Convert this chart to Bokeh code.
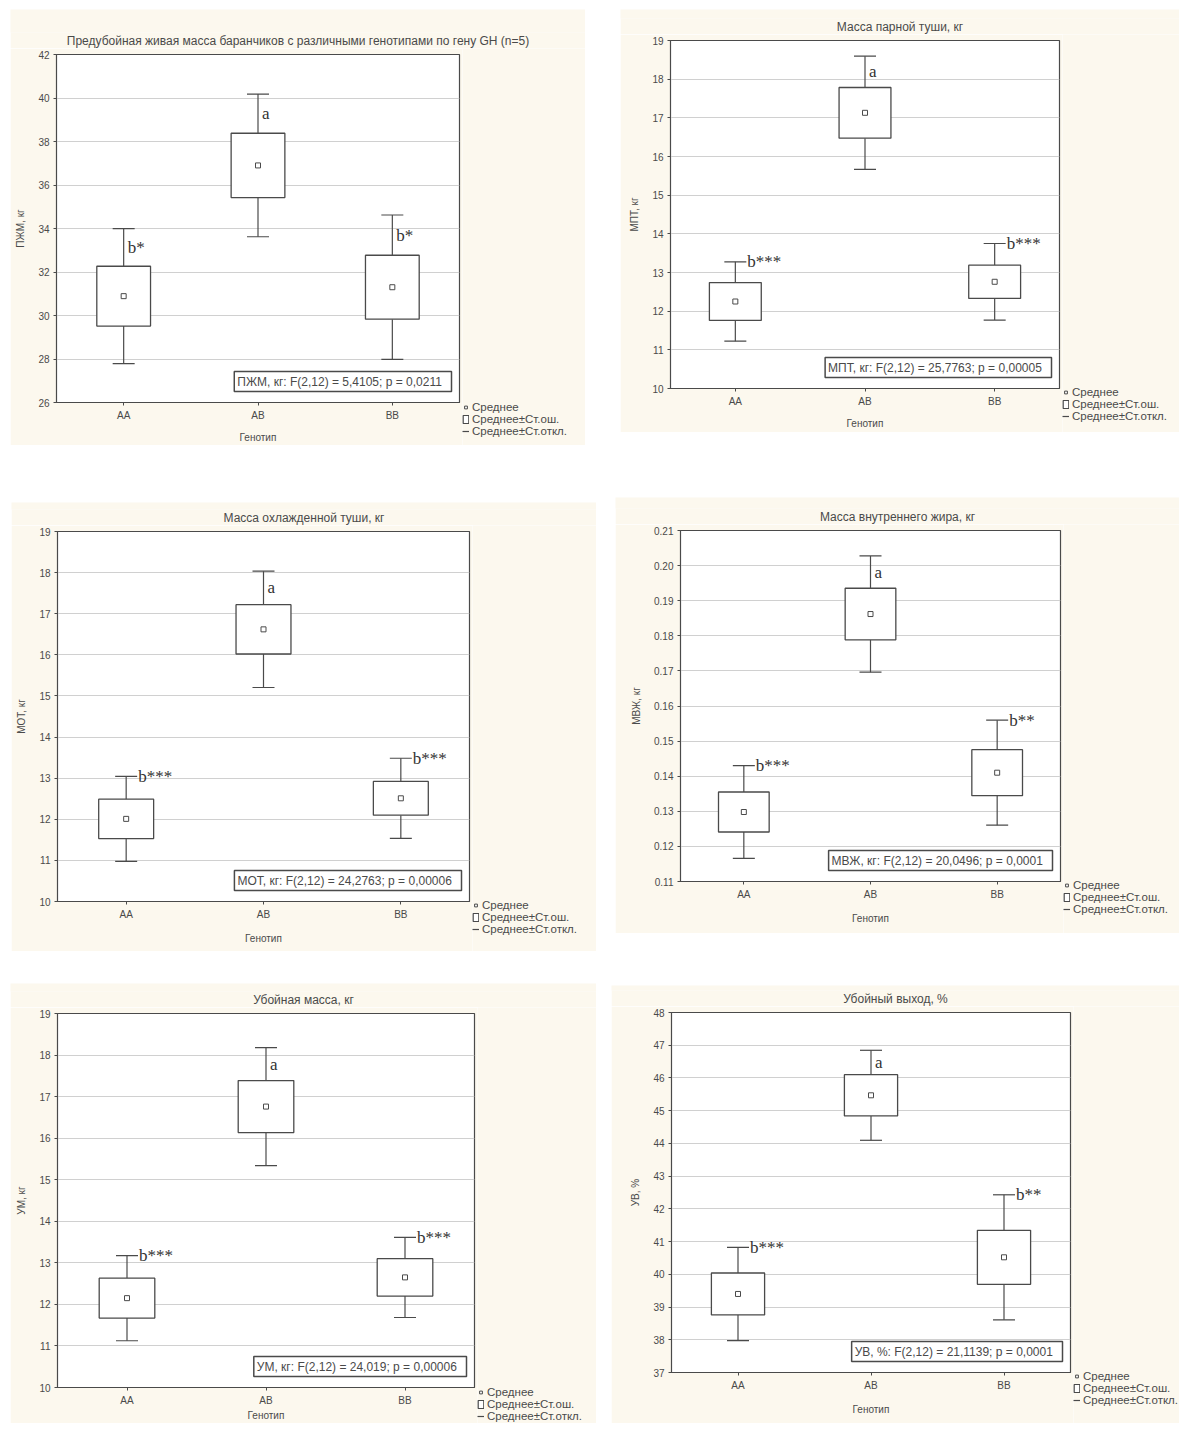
from bokeh.plotting import figure
from bokeh.models import (FixedTicker, Legend, LegendItem, Label, Spacer,
                          Range1d, ColumnDataSource)
from bokeh.layouts import row, column
from bokeh.embed import file_html
from bokeh.resources import INLINE
from bokeh.core.properties import value

# ---------------- data ----------------
genotypes = ["AA", "AB", "BB"]

pzhm_mean = [30.89, 36.90, 31.30]
pzhm_se = [1.375, 1.48, 1.47]
pzhm_sd = [3.105, 3.28, 3.32]
pzhm_marks = ["b*", "a", "b*"]

mpt_mean = [12.25, 17.13, 12.76]
mpt_se = [0.49, 0.655, 0.43]
mpt_sd = [1.025, 1.465, 0.99]
mpt_marks = ["b***", "a", "b***"]

mot_mean = [12.01, 16.62, 12.51]
mot_se = [0.48, 0.60, 0.41]
mot_sd = [1.035, 1.415, 0.975]
mot_marks = ["b***", "a", "b***"]

mvzh_mean = [0.1298, 0.1862, 0.1410]
mvzh_se = [0.0057, 0.00735, 0.00655]
mvzh_sd = [0.0132, 0.01655, 0.01495]
mvzh_marks = ["b***", "a", "b**"]

um_mean = [12.15, 16.76, 12.65]
um_se = [0.48, 0.625, 0.45]
um_sd = [1.025, 1.42, 0.965]
um_marks = ["b***", "a", "b***"]

uv_mean = [39.40, 45.47, 40.52]
uv_se = [0.64, 0.63, 0.825]
uv_sd = [1.425, 1.375, 1.91]
uv_marks = ["b***", "a", "b**"]

ticks_pzhm = [26, 28, 30, 32, 34, 36, 38, 40, 42]
ticks_kg = [10, 11, 12, 13, 14, 15, 16, 17, 18, 19]
ticks_mvzh = [0.11, 0.12, 0.13, 0.14, 0.15, 0.16, 0.17, 0.18, 0.19, 0.20, 0.21]
ticks_uv = [37, 38, 39, 40, 41, 42, 43, 44, 45, 46, 47, 48]
tick_labels_mvzh = ["0.11", "0.12", "0.13", "0.14", "0.15", "0.16", "0.17", "0.18",
                    "0.19", "0.20", "0.21"]

titles = ["Предубойная живая масса баранчиков с различными генотипами по гену GH (n=5)",
          "Масса парной туши, кг", "Масса охлажденной туши, кг",
          "Масса внутреннего жира, кг", "Убойная масса, кг", "Убойный выход, %"]
ylabels = ["ПЖМ, кг", "МПТ, кг", "МОТ, кг", "МВЖ, кг", "УМ, кг", "УВ, %"]
ftexts = ["ПЖМ, кг:   F(2,12) = 5,4105; p = 0,0211",
          "МПТ, кг:   F(2,12) = 25,7763; p = 0,00005",
          "МОТ, кг:   F(2,12) = 24,2763; p = 0,00006",
          "МВЖ, кг:   F(2,12) = 20,0496; p = 0,0001",
          "УМ, кг:   F(2,12) = 24,019; p = 0,00006",
          "УВ, %:   F(2,12) = 21,1139; p = 0,0001"]
legend_labels = ["Среднее", "Среднее±Ст.ош.", "Среднее±Ст.откл."]
xlabel = "Генотип"

# ---------------- styling / geometry ----------------
BG = "#fcf8ee"
INK = "#4a4a4a"
FONT = "Liberation Sans"
GAP_R = 3   # border between frame and legend strip
TOP_P = 6   # top border of the plot figure (below the title strip)

panels = [
    dict(mean=pzhm_mean, se=pzhm_se, sd=pzhm_sd, marks=pzhm_marks, ticks=ticks_pzhm,
         labels=None, lo=26, hi=42, mode="mid", xstand=8,
         w=575, h=436, l=46, r=126, t=45, b=42),
    dict(mean=mpt_mean, se=mpt_se, sd=mpt_sd, marks=mpt_marks, ticks=ticks_kg,
         labels=None, lo=10, hi=19, mode="top", xstand=8,
         w=559, h=423, l=50, r=120, t=31, b=44),
    dict(mean=mot_mean, se=mot_se, sd=mot_sd, marks=mot_marks, ticks=ticks_kg,
         labels=None, lo=10, hi=19, mode="top", xstand=10,
         w=585, h=449, l=46, r=127, t=29, b=50),
    dict(mean=mvzh_mean, se=mvzh_se, sd=mvzh_sd, marks=mvzh_marks, ticks=ticks_mvzh,
         labels=tick_labels_mvzh, lo=0.11, hi=0.21, mode="top", xstand=10,
         w=564, h=436, l=65, r=119, t=33, b=52),
    dict(mean=um_mean, se=um_se, sd=um_sd, marks=um_marks, ticks=ticks_kg,
         labels=None, lo=10, hi=19, mode="top", xstand=1,
         w=586, h=440, l=47, r=122, t=30, b=35),
    dict(mean=uv_mean, se=uv_se, sd=uv_sd, marks=uv_marks, ticks=ticks_uv,
         labels=None, lo=37, hi=48, mode="top", xstand=10,
         w=568, h=438, l=60, r=109, t=27, b=51),
]

WHISKER = dict(line_color=INK, line_width=1.2)
BOX = dict(fill_color="white", line_color=INK, line_width=1.3)
MEAN = dict(marker="square", size=5, fill_color="white", line_color=INK, line_width=1)


def make_panel(i, cfg):
    ts = cfg["t"] - TOP_P           # height of title strip
    ph = cfg["h"] - ts              # height of plot figure
    lw = cfg["r"] - GAP_R           # width of legend strip
    mw = cfg["w"] - lw              # width of plot figure
    fw = mw - cfg["l"] - GAP_R      # frame width

    # ---- title strip ----
    s = figure(width=cfg["w"], height=ts, output_backend="svg", toolbar_location=None,
               x_axis_type=None, y_axis_type=None, min_border=0, min_border_bottom=16,
               border_fill_color=BG, background_fill_color=BG, outline_line_color=None,
               x_range=Range1d(0, 1), y_range=Range1d(0, 1), frame_align=False,
               title=titles[i], title_location="below")
    s.xgrid.grid_line_color = None
    s.ygrid.grid_line_color = None
    s.title.align = "center"
    s.title.vertical_align = "middle"
    s.title.text_font = FONT
    s.title.text_font_size = "12px"
    s.title.text_font_style = "normal"
    s.title.text_color = INK
    s.title.standoff = 0

    # ---- plot ----
    p = figure(width=mw, height=ph, output_backend="svg", toolbar_location=None,
               x_range=Range1d(0.5, 3.5), y_range=Range1d(cfg["lo"], cfg["hi"]),
               min_border_left=cfg["l"], min_border_right=GAP_R,
               min_border_top=TOP_P, min_border_bottom=cfg["b"],
               border_fill_color=BG, background_fill_color="white",
               outline_line_color=INK, outline_line_width=1.2, frame_align=False)

    xs = [k + 1 for k in range(len(genotypes))]
    mean, se, sd = cfg["mean"], cfg["se"], cfg["sd"]
    src = ColumnDataSource(dict(
        x=xs, mean=mean,
        se_hi=[m + s_ for m, s_ in zip(mean, se)], se_lo=[m - s_ for m, s_ in zip(mean, se)],
        sd_hi=[m + s_ for m, s_ in zip(mean, sd)], sd_lo=[m - s_ for m, s_ in zip(mean, sd)],
    ))

    p.xaxis.ticker = FixedTicker(ticks=xs)
    p.xaxis.major_label_overrides = {x: g for x, g in zip(xs, genotypes)}
    p.yaxis.ticker = FixedTicker(ticks=cfg["ticks"])
    if cfg["labels"]:
        p.yaxis.major_label_overrides = {t: lab for t, lab in zip(cfg["ticks"], cfg["labels"])}
    p.xaxis.axis_label = xlabel
    p.yaxis.axis_label = ylabels[i]
    for ax in (p.xaxis[0], p.yaxis[0]):
        ax.axis_line_color = INK
        ax.major_tick_line_color = INK
        ax.major_tick_out = 3
        ax.major_tick_in = 0
        ax.minor_tick_line_color = None
        ax.major_label_text_font = FONT
        ax.major_label_text_font_size = "10px"
        ax.major_label_text_color = INK
        ax.axis_label_text_font = FONT
        ax.axis_label_text_font_size = "10px"
        ax.axis_label_text_font_style = "normal"
        ax.axis_label_text_color = INK
        ax.major_label_standoff = 4
    p.xaxis.axis_label_standoff = cfg["xstand"]
    p.yaxis.axis_label_standoff = 9

    p.xgrid.grid_line_color = None
    p.ygrid.grid_line_color = "#d0d0d0"
    p.ygrid.grid_line_width = 1.2

    p.segment(x0="x", y0="se_hi", x1="x", y1="sd_hi", source=src, **WHISKER)
    p.segment(x0="x", y0="se_lo", x1="x", y1="sd_lo", source=src, **WHISKER)
    p.scatter(x="x", y="sd_hi", source=src, marker="dash", size=22, **WHISKER)
    p.scatter(x="x", y="sd_lo", source=src, marker="dash", size=22, **WHISKER)
    p.vbar(x="x", width=0.4, top="se_hi", bottom="se_lo", source=src, **BOX)
    p.scatter(x="x", y="mean", source=src, **MEAN)

    ly, lo = [], []
    for m, a, mk in zip(src.data["se_hi"], src.data["sd_hi"], cfg["marks"]):
        if cfg["mode"] == "mid" or mk == "a":
            ly.append((m + a) / 2.0)
            lo.append(4)
        else:
            ly.append(a)
            lo.append(12)
    tsrc = ColumnDataSource(dict(x=xs, y=ly, t=cfg["marks"], off=lo))
    p.text(x="x", y="y", text="t", source=tsrc, x_offset="off", text_baseline="middle",
           text_align="left", text_font=value("Liberation Serif"), text_font_size="17px",
           text_color="#333333")

    p.add_layout(Label(x=fw - 8, y=11, x_units="screen", y_units="screen", text=ftexts[i],
                       text_align="right", text_baseline="bottom", text_font=FONT,
                       text_font_size="12px", text_color=INK, border_line_color=INK,
                       border_line_width=1.5, background_fill_color="white", padding=3))

    # ---- legend strip ----
    q = figure(width=lw, height=ph, output_backend="svg", toolbar_location=None,
               x_axis_type=None, y_axis_type=None, min_border=0,
               border_fill_color=BG, background_fill_color=BG, outline_line_color=None,
               x_range=Range1d(0, 1), y_range=Range1d(0, 1), frame_align=False)
    q.xgrid.grid_line_color = None
    q.ygrid.grid_line_color = None
    nan = float("nan")
    nan_src = ColumnDataSource(dict(x=[nan], y=[nan], x1=[nan], y1=[nan]))
    r_mean = q.scatter(x="x", y="y", source=nan_src, **MEAN)
    r_box = q.quad(left="x", right="x1", bottom="y", top="y1", source=nan_src,
                   fill_color="white", line_color=INK, line_width=1.2)
    r_wh = q.vspan(x="x", source=nan_src, **WHISKER)
    leg_h = 33
    leg = Legend(items=[LegendItem(label=legend_labels[0], renderers=[r_mean]),
                        LegendItem(label=legend_labels[1], renderers=[r_box]),
                        LegendItem(label=legend_labels[2], renderers=[r_wh])],
                 location=(0, max(0, cfg["b"] - 1 - leg_h)), label_text_font=FONT,
                 label_text_font_size="11.5px", label_text_color=INK, label_height=11,
                 glyph_height=10, glyph_width=7, spacing=0, padding=0, margin=0,
                 label_standoff=3, border_line_color=None, background_fill_alpha=0)
    q.add_layout(leg, "center")
    return column(s, row(p, q))


figs = [make_panel(i, c) for i, c in enumerate(panels)]

layout = column(
    Spacer(height=9, width=10),
    row(Spacer(width=10, height=10), figs[0], Spacer(width=35, height=10), figs[1]),
    Spacer(height=52, width=10),
    row(Spacer(width=11, height=10), column(Spacer(height=5, width=10), figs[2]),
        Spacer(width=19, height=10), figs[3]),
    Spacer(height=32, width=10),
    row(Spacer(width=10, height=10), figs[4], Spacer(width=15, height=10),
        column(Spacer(height=2, width=10), figs[5])),
)

open("out.html", "w").write(file_html(layout, INLINE))
